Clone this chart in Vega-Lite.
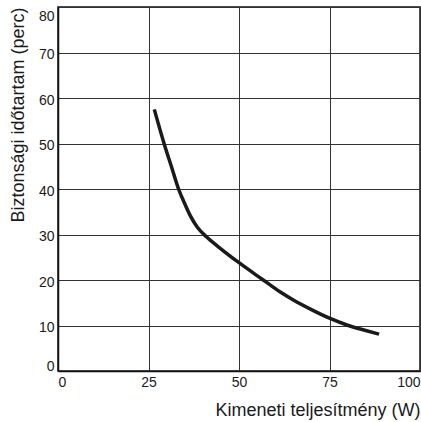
{
  "$schema": "https://vega.github.io/schema/vega-lite/v6.json",
  "autosize": "none",
  "width": 362,
  "height": 364,
  "padding": {"left": 58, "top": 7, "right": 1, "bottom": 51},
  "background": "white",
  "config": {
    "font": "Liberation Sans",
    "view": {"stroke": "#111", "strokeWidth": 1.5},
    "axis": {
      "labelFont": "Liberation Sans",
      "titleFont": "Liberation Sans",
      "labelFontSize": 14,
      "labelColor": "#1a1a1a",
      "titleColor": "#1a1a1a",
      "titleFontWeight": "normal",
      "titleFontSize": 18,
      "gridColor": "#333",
      "gridOpacity": 1,
      "gridWidth": 1,
      "domainColor": "#111",
      "domainWidth": 1.5,
      "ticks": false,
      "labelFlush": true
    }
  },
  "data": {
    "values": [
      {"p": 26.6, "t": 57.5},
      {"p": 29.3, "t": 50},
      {"p": 31.3, "t": 45},
      {"p": 33.3, "t": 40},
      {"p": 35, "t": 36.8},
      {"p": 36.5, "t": 34.2},
      {"p": 38.5, "t": 31.6},
      {"p": 41, "t": 29.5},
      {"p": 44.3, "t": 27.3},
      {"p": 50, "t": 23.8},
      {"p": 56.7, "t": 20},
      {"p": 61.3, "t": 17.4},
      {"p": 65, "t": 15.6},
      {"p": 70, "t": 13.5},
      {"p": 75, "t": 11.6},
      {"p": 80.2, "t": 10},
      {"p": 85, "t": 8.9},
      {"p": 88.7, "t": 8.1}
    ]
  },
  "mark": {"type": "line", "color": "#1a1a1a", "strokeWidth": 3.5, "interpolate": "monotone", "strokeCap": "butt"},
  "encoding": {
    "x": {
      "field": "p",
      "type": "quantitative",
      "scale": {"domain": [0, 100], "nice": false},
      "axis": {"values": [0, 25, 50, 75, 100], "title": "Kimeneti teljesítmény (W)", "titleAnchor": "end", "titlePadding": 12, "labelPadding": 4}
    },
    "y": {
      "field": "t",
      "type": "quantitative",
      "scale": {"domain": [0, 80], "nice": false},
      "axis": {"values": [0, 10, 20, 30, 40, 50, 60, 70, 80], "title": "Biztonsági időtartam (perc)", "titleAnchor": "end", "titlePadding": 11, "labelPadding": 4, "labelOffset": 2}
    }
  }
}
